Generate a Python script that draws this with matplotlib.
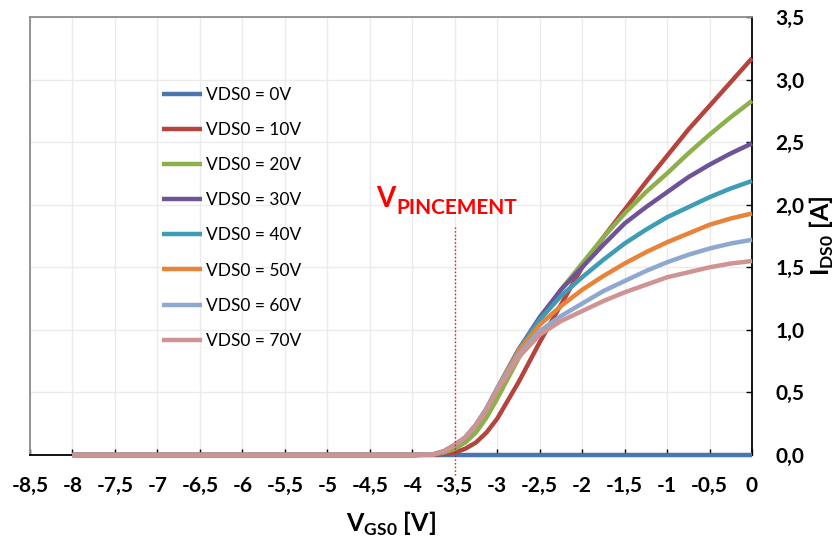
#Imports
import matplotlib
matplotlib.use('Agg')
import matplotlib.pyplot as plt
from matplotlib.ticker import FuncFormatter, MultipleLocator

#Data
Vgs = [-8, -4, -3.75, -3.625, -3.5, -3.375, -3.25, -3.125, -3, -2.75, -2.5, -2.25,
       -2, -1.75, -1.5, -1.25, -1, -0.75, -0.5, -0.25, 0]
Vgs_0V = [-8, 0]
Ids_0V = [0, 0]
Ids_10V = [0, 0, 0.002, 0.008, 0.02, 0.05, 0.10, 0.18, 0.29, 0.58, 0.90, 1.20,
           1.50, 1.74, 1.96, 2.18, 2.39, 2.60, 2.79, 2.98, 3.17]
Ids_20V = [0, 0, 0.004, 0.02, 0.05, 0.10, 0.18, 0.30, 0.45, 0.77, 1.07, 1.32,
           1.53, 1.74, 1.93, 2.10, 2.25, 2.41, 2.56, 2.70, 2.83]
Ids_30V = [0, 0, 0.005, 0.03, 0.08, 0.14, 0.24, 0.37, 0.53, 0.84, 1.10, 1.32,
           1.50, 1.68, 1.85, 1.98, 2.10, 2.22, 2.32, 2.41, 2.49]
Ids_40V = [0, 0, 0.005, 0.03, 0.08, 0.14, 0.24, 0.37, 0.53, 0.84, 1.08, 1.27,
           1.42, 1.56, 1.69, 1.80, 1.90, 1.98, 2.06, 2.13, 2.19]
Ids_50V = [0, 0, 0.005, 0.03, 0.08, 0.14, 0.24, 0.37, 0.53, 0.83, 1.04, 1.19,
           1.32, 1.43, 1.53, 1.62, 1.70, 1.77, 1.84, 1.89, 1.93]
Ids_60V = [0, 0, 0.005, 0.03, 0.08, 0.14, 0.24, 0.37, 0.53, 0.80, 0.99, 1.11,
           1.21, 1.31, 1.39, 1.47, 1.54, 1.60, 1.65, 1.69, 1.72]
Ids_70V = [0, 0, 0.005, 0.03, 0.08, 0.14, 0.24, 0.36, 0.52, 0.78, 0.96, 1.07,
           1.15, 1.23, 1.30, 1.36, 1.42, 1.46, 1.50, 1.53, 1.55]
Labels = ['VDS0 = 0V', 'VDS0 = 10V', 'VDS0 = 20V', 'VDS0 = 30V',
          'VDS0 = 40V', 'VDS0 = 50V', 'VDS0 = 60V', 'VDS0 = 70V']
Colors = ['#4A76B0', '#B5443F', '#8DB04C', '#6E5497', '#3E9CB5', '#E8843A', '#8FA8D0', '#D09393']
V_Pincement = -3.5

plt.rcParams['font.family'] = ['Lato', 'DejaVu Sans']

fig = plt.figure(figsize=(8.4, 5.4), dpi=100)
ax = fig.add_axes([30/840, 85/540, 722/840, 438/540])

#Curves
ax.plot(Vgs_0V, Ids_0V, color=Colors[0], lw=3.2, label=Labels[0],
        solid_capstyle='butt', clip_on=False, zorder=3)
Series = [Ids_10V, Ids_20V, Ids_30V, Ids_40V, Ids_50V, Ids_60V, Ids_70V]
for i, Ids in enumerate(Series):
    ax.plot(Vgs, Ids, color=Colors[i+1], lw=3.2, label=Labels[i+1],
            solid_capstyle='butt', solid_joinstyle='round', clip_on=False, zorder=3)

#Pinch-off marker
ax.plot([V_Pincement, V_Pincement], [-0.16, 1.84], color='red', lw=1, ls=':', clip_on=False, zorder=4)
ax.text(-4.43, 1.98, 'V', color='red', fontsize=20, fontweight='bold', va='baseline')
ax.text(-4.19, 1.925, 'PINCEMENT', color='red', fontsize=15, fontweight='bold', va='baseline')

#Axes setup
ax.set_xlim(-8.5, 0)
ax.set_ylim(0, 3.5)
ax.xaxis.set_major_locator(MultipleLocator(0.5))
ax.yaxis.set_major_locator(MultipleLocator(0.5))
ax.grid(True, color='#ebebeb', lw=1)
ax.set_axisbelow(True)
ax.yaxis.tick_right()
ax.yaxis.set_label_position('right')

def xfmt(v, pos):
    s = ('%g' % v).replace('.', ',')
    return '0' if s == '-0' else s
ax.xaxis.set_major_formatter(FuncFormatter(xfmt))
ax.yaxis.set_major_formatter(FuncFormatter(lambda v, pos: ('%.1f' % v).replace('.', ',')))

ax.tick_params(axis='x', direction='in', length=4, width=1, color='black', pad=15, labelsize=15)
ax.tick_params(axis='y', direction='in', length=4, width=1, color='black', pad=17, labelsize=15)
for lab in ax.get_xticklabels() + ax.get_yticklabels():
    lab.set_fontweight('bold')

for side in ['left', 'top']:
    ax.spines[side].set_color('#8c8c8c')
    ax.spines[side].set_linewidth(1.3)
for side in ['right', 'bottom']:
    ax.spines[side].set_color('black')
    ax.spines[side].set_linewidth(1.3)

ax.set_xlabel('V$_{\\mathregular{GS0}}$ [V]', fontsize=18, fontweight='bold', labelpad=10)
ax.set_ylabel('I$_{\\mathregular{DS0}}$ [A]', fontsize=18, fontweight='bold', labelpad=2)

ax.legend(loc='upper left', bbox_to_anchor=(0.183, 0.84), frameon=False, fontsize=12.5,
          handlelength=2.3, handletextpad=0.25, labelspacing=1.1, borderpad=0, borderaxespad=0)

fig.savefig('out.png', dpi=100)
